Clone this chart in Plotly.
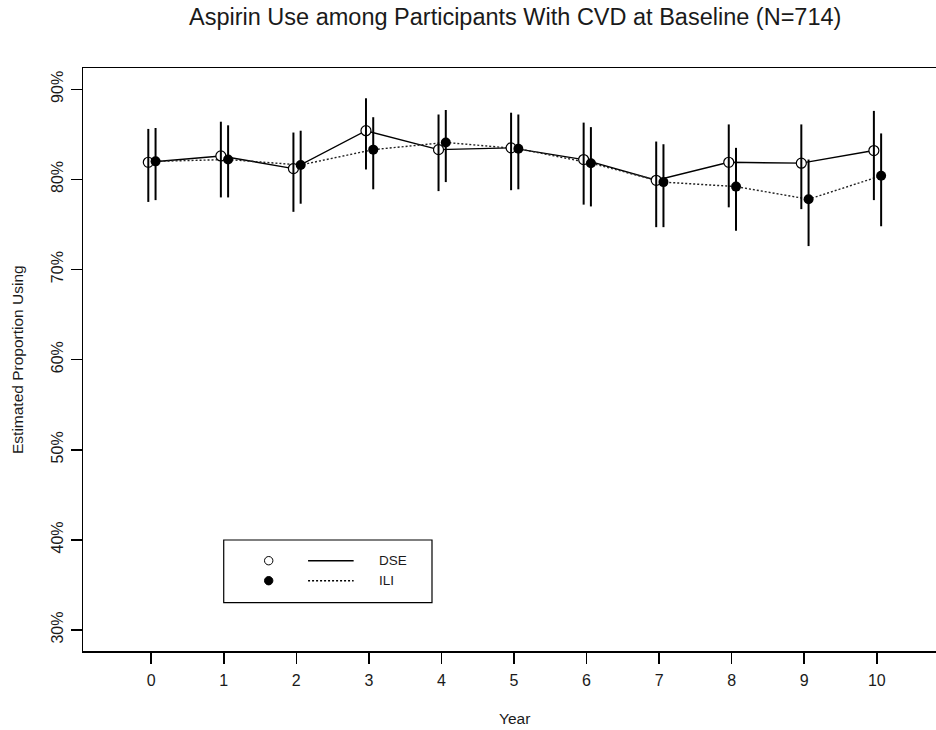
import plotly.graph_objects as go

# ---- data ----
years = [0, 1, 2, 3, 4, 5, 6, 7, 8, 9, 10]
dse = [81.9, 82.6, 81.2, 85.4, 83.3, 83.5, 82.2, 79.9, 81.9, 81.8, 83.2]
dse_lo = [77.5, 78.0, 76.4, 81.1, 78.7, 78.8, 77.2, 74.7, 76.9, 76.7, 77.7]
dse_hi = [85.6, 86.4, 85.2, 89.0, 87.2, 87.4, 86.3, 84.2, 86.1, 86.1, 87.6]
ili = [82.0, 82.2, 81.6, 83.3, 84.1, 83.4, 81.8, 79.7, 79.2, 77.8, 80.4]
ili_lo = [77.7, 78.0, 77.3, 78.9, 79.7, 78.9, 77.0, 74.7, 74.3, 72.6, 74.8]
ili_hi = [85.7, 86.0, 85.4, 86.9, 87.7, 87.2, 85.8, 83.9, 83.5, 82.2, 85.1]
y_ticks = [0.3, 0.4, 0.5, 0.6, 0.7, 0.8, 0.9]
title = "Aspirin Use among Participants With CVD at Baseline (N=714)"

# ---- derived ----
dse_off, ili_off = -0.04, 0.06
xd = [x + dse_off for x in years]
xi = [x + ili_off for x in years]
fd = [v / 100 for v in dse]
fi = [v / 100 for v in ili]
d_up = [(h - v) / 100 for h, v in zip(dse_hi, dse)]
d_dn = [(v - l) / 100 for l, v in zip(dse_lo, dse)]
i_up = [(h - v) / 100 for h, v in zip(ili_hi, ili)]
i_dn = [(v - l) / 100 for l, v in zip(ili_lo, ili)]

FONT = "Liberation Sans, Arial, sans-serif"
TXT = "#1a1a1a"
DOT = "2px,2px"

fig = go.Figure()
fig.add_trace(go.Scatter(x=xd, y=fd, mode="lines", line=dict(color="black", width=1.4),
                         showlegend=False, hoverinfo="skip"))
fig.add_trace(go.Scatter(x=xi, y=fi, mode="lines", line=dict(color="#222", width=1.4, dash=DOT),
                         showlegend=False, hoverinfo="skip"))
fig.add_trace(go.Scatter(x=xd, y=fd, mode="markers",
                         marker=dict(symbol="circle", size=10, color="white",
                                     line=dict(color="black", width=1.2)),
                         showlegend=False))
fig.add_trace(go.Scatter(x=xd, y=fd, mode="markers",
                         marker=dict(size=1, color="rgba(0,0,0,0)"),
                         error_y=dict(type="data", symmetric=False, array=d_up, arrayminus=d_dn,
                                      width=0, thickness=2, color="black"),
                         showlegend=False, hoverinfo="skip"))
fig.add_trace(go.Scatter(x=xi, y=fi, mode="markers",
                         marker=dict(size=1, color="rgba(0,0,0,0)"),
                         error_y=dict(type="data", symmetric=False, array=i_up, arrayminus=i_dn,
                                      width=0, thickness=2, color="black"),
                         showlegend=False, hoverinfo="skip"))
fig.add_trace(go.Scatter(x=xi, y=fi, mode="markers",
                         marker=dict(symbol="circle", size=10, color="black"),
                         showlegend=False))

# ---- layout geometry (pixels) ----
W, H = 936, 730
L, R, T, B = 82.5, 0, 68, 79
pw = W - L - R
ph = H - T - B


def px_x(px):
    return (px - L) / pw


def px_y(py):
    return (H - B - py) / ph


shapes = []
annotations = []
# legend box
shapes.append(dict(type="rect", xref="paper", yref="paper",
                   x0=px_x(223.3), x1=px_x(431.7), y0=px_y(602.7), y1=px_y(540),
                   line=dict(color="black", width=1.2), fillcolor="white"))
for yy, dash, fill, lab in [(560.7, "solid", "white", "DSE"), (580.7, DOT, "black", "ILI")]:
    shapes.append(dict(type="line", xref="paper", yref="paper",
                       x0=px_x(307.7), x1=px_x(353.3), y0=px_y(yy), y1=px_y(yy),
                       line=dict(color="black", width=1.4, dash=dash)))
    shapes.append(dict(type="circle", xref="paper", yref="paper",
                       xsizemode="pixel", ysizemode="pixel",
                       xanchor=px_x(268.3), yanchor=px_y(yy),
                       x0=-4.2, x1=4.2, y0=-4.2, y1=4.2,
                       line=dict(color="black", width=1), fillcolor=fill))
    annotations.append(dict(text=lab, xref="paper", yref="paper", x=px_x(376.7), y=px_y(yy),
                            xanchor="left", yanchor="middle", showarrow=False,
                            font=dict(family=FONT, size=13.5, color=TXT)))

annotations.append(dict(text="Year", xref="paper", yref="paper", x=px_x(514.5), y=0,
                        yshift=-(718 - (H - B)), xanchor="center", yanchor="middle",
                        showarrow=False, font=dict(family=FONT, size=15.5, color=TXT)))
annotations.append(dict(text="Estimated Proportion Using", xref="paper", yref="paper",
                        x=0, xshift=17 - L, y=px_y(359.5), xanchor="center", yanchor="middle",
                        textangle=-90, showarrow=False, font=dict(family=FONT, size=15.5, color=TXT)))
annotations.append(dict(text=title, xref="paper", yref="paper", x=px_x(514.5), y=1,
                        yshift=T - 17, xanchor="center", yanchor="middle",
                        showarrow=False, font=dict(family=FONT, size=23.5, color=TXT)))

x_lo = -0.94
x_hi = x_lo + pw / 72.6

fig.update_layout(
    width=W, height=H,
    margin=dict(l=L, r=R, t=T, b=B, pad=0),
    paper_bgcolor="white", plot_bgcolor="white",
    font=dict(family=FONT, color=TXT),
    shapes=shapes, annotations=annotations,
    showlegend=False,
    xaxis=dict(range=[x_lo, x_hi], tickvals=years, ticktext=[str(v) for v in years],
               showgrid=False, zeroline=False, showline=True, linecolor="black", linewidth=1.5,
               mirror=True, ticks="outside", ticklen=11, tickwidth=1.5, tickcolor="black",
               tickfont=dict(family=FONT, size=16, color=TXT), ticklabelstandoff=3),
    yaxis=dict(range=[0.2767, 0.9236], tickvals=y_ticks, tickformat=".0%",
               showgrid=False, zeroline=False, showline=True, linecolor="black", linewidth=1.5,
               mirror=False, ticks="outside", ticklen=11, tickwidth=1.5, tickcolor="black",
               tickangle=-90, tickfont=dict(family=FONT, size=16, color=TXT),
               ticklabelstandoff=1),
)

fig.write_html("out.html",
               config={"displayModeBar": False, "staticPlot": True},
               post_script="document.body.style.margin='0';document.body.style.overflow='hidden';")
